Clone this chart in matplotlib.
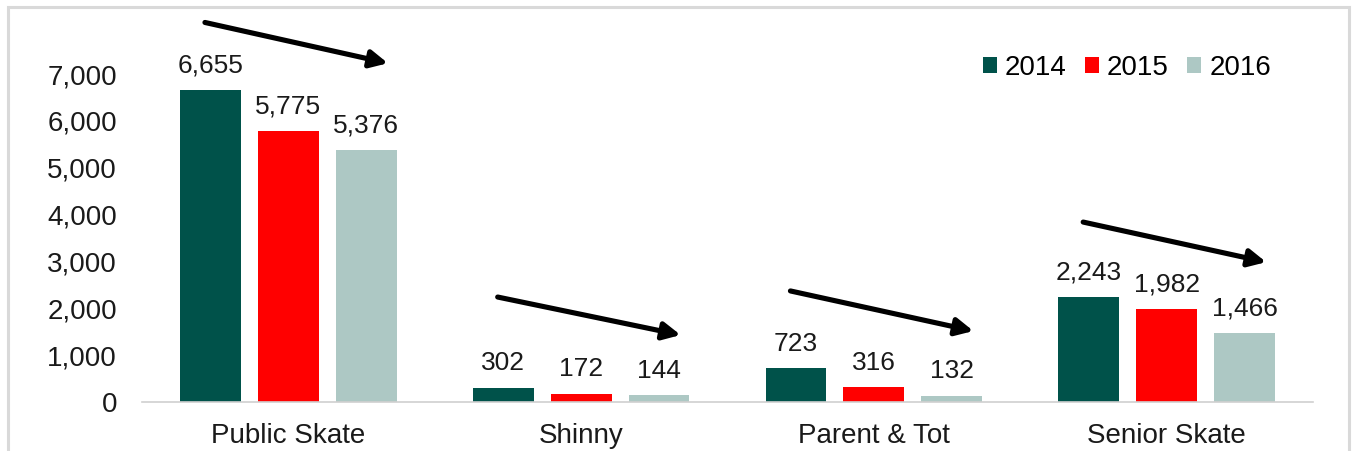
import matplotlib
matplotlib.use("Agg")
import matplotlib.pyplot as plt
from matplotlib.patches import Rectangle
import numpy as np

plt.rcParams['font.family'] = ['Liberation Sans', 'DejaVu Sans']

categories = ["Public Skate", "Shinny", "Parent & Tot", "Senior Skate"]
years = ["2014", "2015", "2016"]
values_2014 = [6655, 302, 723, 2243]
values_2015 = [5775, 172, 316, 1982]
values_2016 = [5376, 144, 132, 1466]
colors = ["#00524A", "#FF0000", "#ADC8C4"]

W, H = 1353, 451
fig = plt.figure(figsize=(W / 100, H / 100), dpi=100)
ax = fig.add_axes([142 / W, (H - 402) / H, 1171 / W, 328 / H])

x = np.arange(len(categories))
bw = 0.208
step = 0.266
series = [values_2014, values_2015, values_2016]
for i, (vals, yr, c) in enumerate(zip(series, years, colors)):
    pos = x + (i - 1) * step
    bars = ax.bar(pos, vals, width=bw, color=c, label=yr, zorder=2)
    for b, v in zip(bars, vals):
        ax.annotate(f"{v:,}", (b.get_x() + b.get_width() / 2, v),
                    xytext=(0, 9), textcoords="offset points",
                    ha="center", va="bottom", fontsize=19, color="#1a1a1a",
                    annotation_clip=False)

ax.set_xlim(-0.5, 3.5)
ax.set_ylim(0, 7000)
ax.set_yticks(range(0, 7001, 1000))
ax.set_yticklabels([f"{v:,}" for v in range(0, 7001, 1000)])
ax.set_xticks(x)
ax.set_xticklabels(categories)
ax.tick_params(axis="both", length=0, labelsize=20, colors="#1a1a1a")
ax.tick_params(axis="y", pad=18)
ax.tick_params(axis="x", pad=15)
for s in ["left", "right", "top"]:
    ax.spines[s].set_visible(False)
ax.spines["bottom"].set_color("#d0d0d0")
ax.spines["bottom"].set_linewidth(1.2)

# downward trend arrows above each group
trend = [(8100, 7230), (2240, 1430), (2370, 1515), (3840, 2985)]
for xi, (y0, y1) in zip(x, trend):
    ax.annotate("", xy=(xi + 0.34, y1), xytext=(xi - 0.285, y0),
                arrowprops=dict(arrowstyle="-|>", color="black", lw=3.7,
                                mutation_scale=26, shrinkA=0, shrinkB=0),
                annotation_clip=False)

fig.legend(loc="center right", bbox_to_anchor=(1271 / W, (H - 68) / H),
           ncol=3, frameon=False, fontsize=20, handlelength=0.5,
           handleheight=0.5, handletextpad=0.3, columnspacing=0.65,
           borderaxespad=0, borderpad=0)

# light frame around the chart
fig.patches.append(Rectangle((8 / W, -0.01), (1349 - 8) / W, (H - 7) / H + 0.01,
                             transform=fig.transFigure, fill=False,
                             edgecolor="#d9d9d9", lw=2.2))

fig.savefig("out.png", dpi=100)
